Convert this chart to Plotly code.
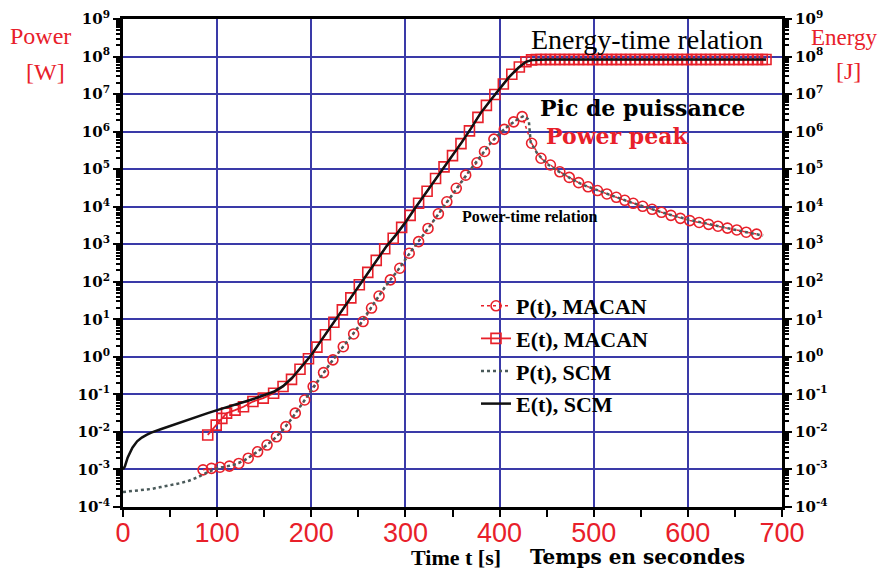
import plotly.graph_objects as go

# ---------------- data (log10 of the values) ----------------
# P(t) MACAN  [W]
p_macan_t = [85, 94, 103, 113, 123, 133, 143, 153, 163, 173, 183, 193, 202, 213, 223, 234, 245,
             255, 264, 272, 284, 294, 304, 314, 324, 335, 344, 354, 364, 376, 384, 394, 405, 415,
             424, 434, 444, 454, 464, 474, 484, 494, 504, 514, 524, 533, 542, 552, 562, 572, 582,
             592, 602, 612, 622, 632, 642, 652, 662, 673]
p_macan_log = [-3.01, -2.97, -2.94, -2.91, -2.84, -2.70, -2.53, -2.35, -2.13, -1.86, -1.50, -1.15,
               -0.79, -0.42, -0.08, 0.27, 0.61, 0.94, 1.30, 1.62, 2.05, 2.36, 2.76, 3.07, 3.42, 3.81,
               4.13, 4.49, 4.84, 5.17, 5.47, 5.80, 6.06, 6.26, 6.40, 5.69, 5.29, 5.11, 4.93, 4.78,
               4.64, 4.53, 4.43, 4.34, 4.25, 4.17, 4.09, 4.01, 3.93, 3.85, 3.77, 3.69, 3.63, 3.58,
               3.53, 3.48, 3.43, 3.38, 3.32, 3.27]

# E(t) MACAN  [J]
e_macan_t = [90, 99, 105, 110, 119, 128, 138, 149, 160, 170, 179, 188, 197, 206, 215, 224, 233,
             242, 251, 260, 269, 278, 287, 296, 305, 314, 323, 332, 341, 350, 359, 368, 377, 386,
             395, 404, 413, 421, 428, 434, 439, 444, 449, 454, 459, 464, 469, 474, 479, 484, 489,
             494, 499, 504, 509, 514, 519, 524, 529, 534, 539, 544, 549, 554, 559, 564, 569, 574,
             579, 584, 589, 594, 599, 604, 609, 614, 619, 624, 629, 634, 639, 644, 649, 654, 659,
             664, 669, 674, 679, 683]
e_macan_log = [-2.08, -1.82, -1.64, -1.50, -1.42, -1.33, -1.19, -1.10, -0.97, -0.79, -0.60, -0.33,
               -0.05, 0.26, 0.59, 0.92, 1.25, 1.57, 1.92, 2.25, 2.57, 2.88, 3.16, 3.45, 3.77, 4.09,
               4.41, 4.75, 5.06, 5.36, 5.68, 6.02, 6.38, 6.70, 6.99, 7.27, 7.53, 7.72, 7.86, 7.91,
               7.92, 7.92, 7.92, 7.92, 7.92, 7.92, 7.92, 7.92, 7.92, 7.92, 7.92, 7.92, 7.92, 7.92,
               7.92, 7.92, 7.92, 7.92, 7.92, 7.92, 7.92, 7.92, 7.92, 7.92, 7.92, 7.92, 7.92, 7.92,
               7.92, 7.92, 7.92, 7.92, 7.92, 7.92, 7.92, 7.92, 7.92, 7.92, 7.92, 7.92, 7.92, 7.92,
               7.92, 7.92, 7.92, 7.92, 7.92, 7.92, 7.92, 7.92]

# P(t) SCM  [W]
p_scm_t = [0, 10, 20, 30, 40, 50, 60, 70, 80, 90, 100, 110, 120, 130, 140, 150, 160, 170, 180,
           190, 200, 210, 220, 230, 240, 250, 260, 270, 280, 290, 300, 310, 320, 330, 340, 350,
           360, 370, 380, 390, 400, 410, 420, 426, 431, 433, 440, 450, 460, 470, 480, 490, 500,
           520, 540, 560, 580, 600, 620, 640, 660, 680]
p_scm_log = [-3.60, -3.57, -3.55, -3.52, -3.47, -3.42, -3.37, -3.30, -3.20, -3.07, -2.97, -2.92,
             -2.86, -2.74, -2.58, -2.40, -2.20, -1.94, -1.62, -1.26, -0.88, -0.52, -0.18, 0.15,
             0.46, 0.80, 1.18, 1.55, 1.93, 2.24, 2.60, 2.95, 3.28, 3.63, 3.99, 4.35, 4.70, 5.02,
             5.35, 5.68, 5.95, 6.17, 6.34, 6.42, 6.32, 5.72, 5.42, 5.15, 4.98, 4.83, 4.69, 4.57,
             4.47, 4.29, 4.11, 3.95, 3.79, 3.66, 3.54, 3.44, 3.33, 3.23]

# E(t) SCM  [J]
e_scm_t = [0, 2, 5, 10, 15, 20, 25, 30, 40, 50, 60, 70, 80, 90, 100, 110, 120, 130, 140, 150,
           160, 170, 180, 190, 200, 210, 220, 230, 240, 250, 260, 270, 280, 290, 300, 310, 320,
           330, 340, 350, 360, 370, 380, 390, 400, 410, 420, 428, 435, 450, 500, 600, 683]
e_scm_log = [-3.00, -2.92, -2.68, -2.42, -2.25, -2.15, -2.08, -2.02, -1.93, -1.84, -1.75, -1.66,
             -1.58, -1.50, -1.42, -1.35, -1.27, -1.19, -1.11, -1.03, -0.93, -0.78, -0.55, -0.25,
             0.05, 0.42, 0.78, 1.15, 1.50, 1.88, 2.25, 2.60, 2.95, 3.25, 3.58, 3.95, 4.30, 4.68,
             5.03, 5.36, 5.72, 6.10, 6.50, 6.82, 7.15, 7.45, 7.70, 7.86, 7.91, 7.92, 7.92, 7.92,
             7.92]

x_ticks = [0, 100, 200, 300, 400, 500, 600, 700]
y_exponents = list(range(-4, 10))
legend_names = ["P(t), MACAN", "E(t), MACAN", "P(t), SCM", "E(t), SCM"]

# ---------------- figure ----------------
def vals(logs):
    return [10 ** v for v in logs]

GRID = "#3a3aa8"
RED = "#e8202a"

fig = go.Figure()
fig.add_trace(go.Scatter(x=p_macan_t, y=vals(p_macan_log), name=legend_names[0], legendgroup="a",
                         mode="lines+markers",
                         line=dict(color=RED, width=1.5, dash="dot"),
                         marker=dict(symbol="circle-open", size=10, color=RED, line=dict(width=1.6))))
fig.add_trace(go.Scatter(x=e_macan_t, y=vals(e_macan_log), name=legend_names[1], legendgroup="b",
                         mode="lines+markers", yaxis="y2",
                         line=dict(color=RED, width=1.8),
                         marker=dict(symbol="square-open", size=10, color=RED, line=dict(width=1.6))))
fig.add_trace(go.Scatter(x=p_scm_t, y=vals(p_scm_log), name=legend_names[2], legendgroup="c",
                         mode="lines", line=dict(color="#4a5a5a", width=2.5, dash="dot")))
fig.add_trace(go.Scatter(x=e_scm_t, y=vals(e_scm_log), name=legend_names[3], legendgroup="d",
                         mode="lines", yaxis="y2", line=dict(color="#111111", width=2.5)))

tickvals = [10 ** e for e in y_exponents]
ticktext = ["10<sup>%d</sup>" % e for e in y_exponents]
minor_vals = [m * 10 ** e for e in y_exponents[:-1] for m in range(2, 10)]

yfont = dict(family="DejaVu Serif", size=15, color="black", weight="bold")
common_y = dict(type="log", range=[-4, 9], tickmode="array", tickvals=tickvals, ticktext=ticktext,
                ticks="outside", ticklen=7, tickwidth=2, tickcolor="black", automargin=False,
                ticklabeloverflow="allow",
                showline=True, linewidth=3, linecolor="black", zeroline=False,
                tickfont=yfont,
                minor=dict(tickmode="array", tickvals=minor_vals, ticks="outside", ticklen=4,
                           tickwidth=1.5, tickcolor="black", showgrid=False))

# the page body adds an 8 px offset, so the margins are set so that the
# plot area lands at x 123..782, y 19..507 on the screen
fig.update_layout(
    width=886, height=580,
    margin=dict(l=115, r=112, t=11, b=81, autoexpand=False),
    paper_bgcolor="white", plot_bgcolor="white",
    xaxis=dict(range=[0, 700], tickmode="array", tickvals=x_ticks, automargin=False,
               ticks="outside", ticklen=7, tickwidth=2, tickcolor="black",
               ticklabelstandoff=-7, ticklabeloverflow="allow",
               showline=True, linewidth=2.5, linecolor="black", mirror=True,
               showgrid=True, gridcolor=GRID, gridwidth=1.5, zeroline=False,
               tickfont=dict(family="Liberation Sans", size=27, color=RED),
               minor=dict(dtick=50, tick0=0, ticks="outside", ticklen=7, tickwidth=2,
                          tickcolor="black", showgrid=False)),
    yaxis=dict(**common_y, showgrid=True, gridcolor=GRID, gridwidth=1.5, side="left"),
    yaxis2=dict(**common_y, showgrid=False, overlaying="y", side="right", anchor="x"),
    legend=dict(x=(476 - 123) / 659, y=(507 - 285) / 488, xanchor="left", yanchor="top",
                bgcolor="rgba(0,0,0,0)", tracegroupgap=1,
                font=dict(family="Liberation Serif", size=22, color="black", weight="bold")),
    showlegend=True,
)


def px(x):
    return (x - 123) / 659


def py(y):
    return (507 - y) / 488


def note(text, x, y, size, family, color="black", bold=False):
    fig.add_annotation(text=text, x=px(x), y=py(y), xref="paper", yref="paper",
                       xanchor="center", yanchor="middle", showarrow=False,
                       font=dict(family=family, size=size, color=color,
                                 weight="bold" if bold else "normal"))


note("Power", 40, 36, 24, "Liberation Serif", RED)
note("[W]", 45, 72, 24, "Liberation Serif", RED)
note("Energy", 845, 38, 23, "Liberation Serif", RED)
note("[J]", 848, 71, 24, "Liberation Serif", RED)
note("Energy-time relation", 647, 39, 28, "Liberation Serif")
note("Pic de puissance", 642, 108, 22, "DejaVu Serif", bold=True)
note("Power peak", 617, 136, 22, "DejaVu Serif", RED, bold=True)
note("Power-time relation", 530, 216, 16, "Liberation Serif", bold=True)
note("Time t [s]", 456, 557, 22, "Liberation Serif", bold=True)
note("Temps en secondes", 637, 557, 20, "DejaVu Serif", bold=True)

fig.write_html("out.html")
